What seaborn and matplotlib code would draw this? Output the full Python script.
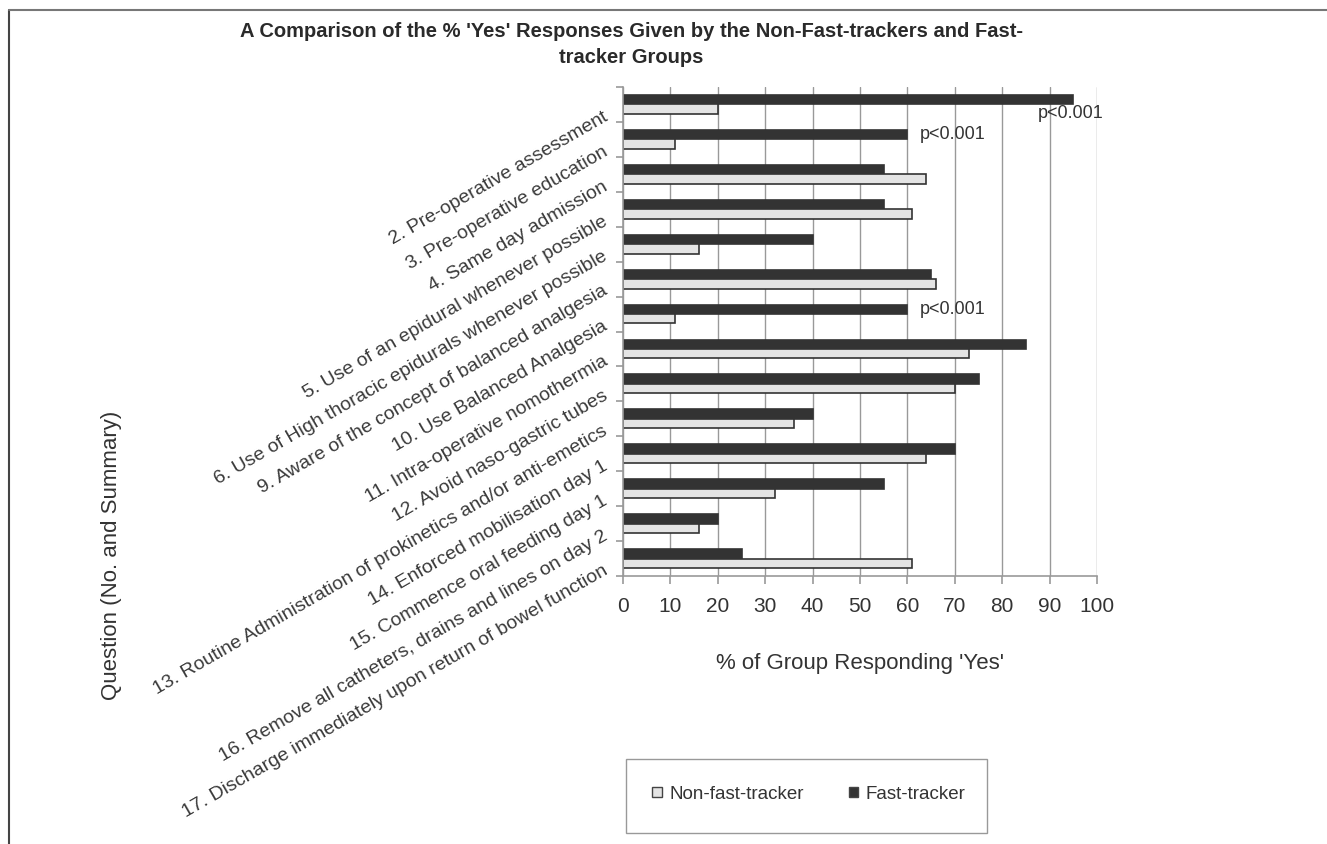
import matplotlib
matplotlib.use("Agg")
import numpy as np
import pandas as pd
import matplotlib.pyplot as plt
import matplotlib.transforms as mtransforms
import seaborn as sns
from matplotlib.patches import Patch, Rectangle
from matplotlib.lines import Line2D

# Data
questions = [
    "2. Pre-operative assessment",
    "3. Pre-operative education",
    "4. Same day admission",
    "5. Use of an epidural whenever possible",
    "6. Use of High thoracic epidurals whenever possible",
    "9. Aware of the concept of balanced analgesia",
    "10. Use Balanced Analgesia",
    "11. Intra-operative nomothermia",
    "12. Avoid naso-gastric tubes",
    "13. Routine Administration of prokinetics and/or anti-emetics",
    "14. Enforced mobilisation day 1",
    "15. Commence oral feeding day 1",
    "16. Remove all catheters, drains and lines on day 2",
    "17. Discharge immediately upon return of bowel function",
]
non_fast = [20, 11, 64, 61, 16, 66, 11, 73, 70, 36, 64, 32, 16, 61]
fast = [95, 60, 55, 55, 40, 65, 60, 85, 75, 40, 70, 55, 20, 25]
groups = ["Non-fast-tracker", "Fast-tracker"]
sig_label = "p<0.001"
sig_index = [0, 1, 6]
sig_xpos = [101.3, 62.7, 62.7]   # where the p-value text sits (data units)

title = ("A Comparison of the % 'Yes' Responses Given by the Non-Fast-trackers and Fast-\n"
         "tracker Groups")

colors = {"Non-fast-tracker": "#e4e4e4", "Fast-tracker": "#333333"}

sns.set_theme(style="white")
plt.rcParams['font.family'] = ['Liberation Sans', 'DejaVu Sans']

df = pd.DataFrame({
    "Question": questions * 2,
    "Percent": fast + non_fast,
    "Group": ["Fast-tracker"] * len(fast) + ["Non-fast-tracker"] * len(non_fast),
})

fig = plt.figure(figsize=(13.27, 8.44), dpi=100)
ax = fig.add_axes([0.4695, 0.3175, 0.3572, 0.5794])

sns.barplot(data=df, x="Percent", y="Question", hue="Group", order=questions,
            hue_order=["Fast-tracker", "Non-fast-tracker"], palette=colors,
            width=0.54, edgecolor="#333333", linewidth=1.2, errorbar=None,
            legend=False, orient="h", ax=ax)

ax.set_xlim(0, 100)
ax.set_ylim(len(questions) - 0.5, -0.5)
ax.set_xticks(range(0, 101, 10))
ax.xaxis.grid(True, color="#999999", lw=1)
ax.set_axisbelow(True)
for s in ["top", "right"]:
    ax.spines[s].set_visible(False)
for s in ["left", "bottom"]:
    ax.spines[s].set_color("#999999")
    ax.spines[s].set_linewidth(1.2)

ax.tick_params(axis="x", labelsize=15, colors="#999999", bottom=True,
               length=6, width=1.2, pad=9)
ax.tick_params(axis="x", labelcolor="#333333")
ax.set_yticks(range(len(questions)))
ax.set_yticklabels(questions, rotation=30, ha="right", va="center",
                   rotation_mode="anchor", fontsize=14, color="#3a3a3a")
ax.tick_params(axis="y", which="major", length=0, pad=12)
ax.set_yticks(np.arange(-0.5, len(questions), 1), minor=True)
ax.tick_params(axis="y", which="minor", left=True, length=5, width=1.2, colors="#999999")

# push the slanted labels a little down, as in the original
shift = mtransforms.ScaledTranslation(0, -0.11, fig.dpi_scale_trans)
for lab in ax.get_yticklabels():
    lab.set_transform(lab.get_transform() + shift)

ax.set_xlabel("% of Group Responding 'Yes'", fontsize=16, color="#333333")
ax.xaxis.set_label_coords(0.5, -0.157)
ax.set_ylabel("")

for i, xp in zip(sig_index, sig_xpos):
    if xp > 100:
        ax.text(xp, i + 0.25, sig_label, ha="right", va="center", fontsize=13, color="#333333")
    else:
        ax.text(xp, i - 0.135, sig_label, ha="left", va="center", fontsize=13, color="#333333")

fig.text(0.0844, 0.342, "Question (No. and Summary)", rotation=90, ha="center",
         va="center", fontsize=16, color="#333333")
fig.text(0.476, 0.9475, title, ha="center", va="center", multialignment="center",
         fontsize=14.5, fontweight="bold", color="#2a2a2a", linespacing=1.45)

# legend in its own box
fig.add_artist(Rectangle((0.4717, 0.013), 0.272, 0.0877, transform=fig.transFigure,
                         facecolor="none", edgecolor="#999999", lw=1))
handles = [Patch(facecolor=colors[g], edgecolor="#444444", label=g) for g in groups]
fig.legend(handles=handles, loc="center", bbox_to_anchor=(0.6096, 0.0592), ncol=2,
           frameon=False, fontsize=13.5, handlelength=0.5, handleheight=0.5,
           handletextpad=0.4, columnspacing=2.4, labelcolor="#333333")

# page frame (left and top edges)
fig.add_artist(Line2D([0.0066, 0.0066], [0, 0.988], transform=fig.transFigure, color="#444444", lw=1.5))
fig.add_artist(Line2D([0.0066, 1], [0.988, 0.988], transform=fig.transFigure, color="#777777", lw=1.5))

fig.savefig("out.png", dpi=100)
